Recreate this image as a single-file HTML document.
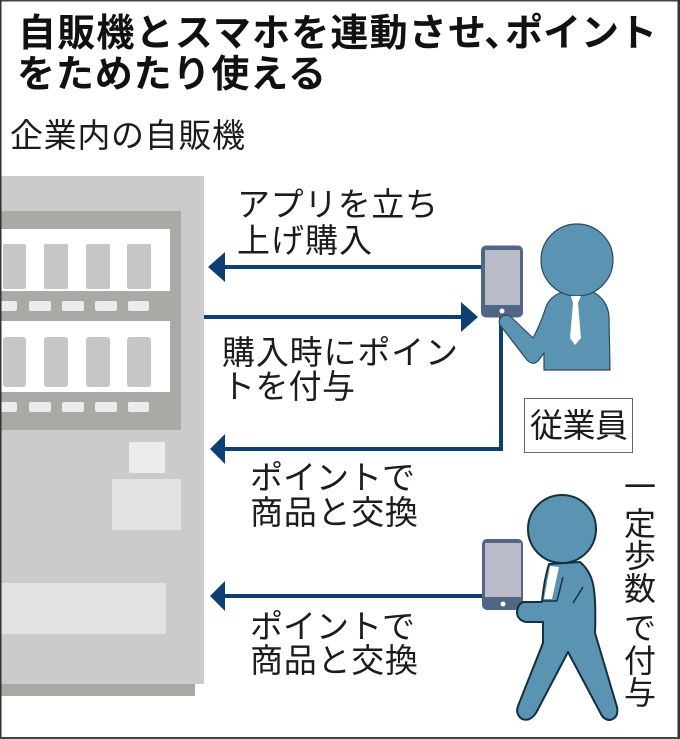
<!DOCTYPE html>
<html><head><meta charset="utf-8"><style>
html,body{margin:0;padding:0;background:#fff}
svg{display:block}
text{font-family:"Liberation Sans","Noto Sans CJK JP",sans-serif;fill:#1c1c1c}
.t{font-size:38px;font-weight:700;fill:#111}
.l{font-size:33px}
.v{font-size:32px;text-anchor:middle}
</style></head><body>
<svg width="680" height="739" viewBox="0 0 680 739" xmlns="http://www.w3.org/2000/svg">
<rect width="680" height="739" fill="#fff"/>
<!-- machine -->
<rect x="0" y="176" width="204" height="508" fill="#cbcbcb"/>
<rect x="0" y="684" width="195" height="12" fill="#a9a9a4"/>
<rect x="0" y="211" width="181" height="219" fill="#a9a9a5"/>
<rect x="0" y="229" width="170" height="62" fill="#fff"/>
<rect x="0" y="321" width="170" height="71" fill="#fff"/>
<g fill="#c6c6c6">
<rect x="3" y="244" width="23" height="45" rx="2"/><rect x="44" y="244" width="24" height="45" rx="2"/><rect x="86" y="244" width="24" height="45" rx="2"/><rect x="127" y="244" width="24" height="45" rx="2"/>
<rect x="3" y="337" width="23" height="50" rx="3"/><rect x="44" y="337" width="24" height="50" rx="3"/><rect x="86" y="337" width="24" height="50" rx="3"/><rect x="127" y="337" width="24" height="50" rx="3"/>
</g>
<g fill="#ececec">
<rect x="0" y="301" width="17" height="10" rx="2"/><rect x="29" y="301" width="22" height="10" rx="2"/><rect x="62" y="301" width="22" height="10" rx="2"/><rect x="95" y="301" width="22" height="10" rx="2"/><rect x="128" y="301" width="21" height="10" rx="2"/>
<rect x="0" y="402" width="17" height="10" rx="2"/><rect x="29" y="402" width="22" height="10" rx="2"/><rect x="62" y="402" width="22" height="10" rx="2"/><rect x="95" y="402" width="22" height="10" rx="2"/><rect x="128" y="402" width="21" height="10" rx="2"/>
<rect x="129" y="442" width="36" height="31"/>
</g>
<g fill="#e2e2e2">
<rect x="112" y="479" width="69" height="51"/>
<rect x="0" y="583" width="166" height="51"/>
</g>
<!-- frame -->
<rect x="0" y="0" width="680" height="1.500" fill="#444"/>
<rect x="0" y="0" width="1.500" height="739" fill="#333"/>
<rect x="677.500" y="0" width="2.500" height="739" fill="#333"/>
<rect x="0" y="737" width="680" height="2" fill="#444"/>
<!-- arrows -->
<g fill="#0d3f73">
<rect x="224" y="265" width="260" height="4"/>
<path d="M208 267L225 252V282Z"/>
<rect x="204" y="315" width="260" height="4"/>
<path d="M478 317L461 302V332Z"/>
<rect x="499" y="316" width="4" height="135"/>
<rect x="225" y="447" width="278" height="4"/>
<path d="M210 449L225 434V464Z"/>
<rect x="225" y="594" width="260" height="4"/>
<path d="M210 596L225 581V611Z"/>
</g>
<!-- person 1 -->
<rect x="481" y="245.500" width="42" height="72" rx="5" fill="#4f6685"/>
<rect x="485" y="250" width="35" height="55" fill="#b9bcc8"/>
<circle cx="502" cy="311" r="2.500" fill="#fff"/>
<g fill="#5b93b3" stroke="#2b4a5e" stroke-width="1.200" stroke-linejoin="round">
<path d="M560 293Q548 298 545 310Q540 325 533 338L510 316Q505 314 501 317Q498 321 500 325L527 360Q533 366 538 361L544 353V370H610L609 317Q608 300 593 292Z"/>
<circle cx="577" cy="260" r="36"/>
</g>
<path d="M571 296H581L578 303L581 338L575 345L570 338L573 303Z" fill="#fff"/>
<!-- person 2 -->
<rect x="482" y="539" width="41" height="71" rx="5" fill="#4f6685"/>
<rect x="485" y="543" width="36" height="54" fill="#b9bcc8"/>
<circle cx="503" cy="604" r="2.500" fill="#fff"/>
<path d="M549 564L580 562Q592 572 594 590Q596 605 595 633L617 707Q619 718 610 720Q604 720 601 714L568 652L536 713Q530 722 522 719Q515 714 518 706L543 643V622H526Q517 620 517 612Q518 603 524 602H542Q544 580 549 564Z" fill="#5b93b3" stroke="#14303f" stroke-width="2" stroke-linejoin="round"/>
<circle cx="562" cy="529" r="34" fill="#5b93b3" stroke="#14303f" stroke-width="2"/>
<path d="M550 566L559 567L552 599H544Z" fill="#fff"/>
<path d="M557 601L563 577M573 603L583 587M542 601H557" fill="none" stroke="#14303f" stroke-width="1.500"/>
<!-- label box -->
<rect x="524.500" y="398.500" width="108" height="54" fill="#fff" stroke="#666" stroke-width="1"/>
<!-- text -->
<text class="t" x="18" y="46" textLength="468">自販機とスマホを連動させ</text>
<text class="t" x="484" y="46">、</text>
<text class="t" x="505" y="46" textLength="152">ポイント</text>
<text class="t" x="17" y="87" textLength="309">をためたり使える</text>
<text class="l" x="10" y="147" textLength="235">企業内の自販機</text>
<text class="l" x="237" y="216" textLength="201">アプリを立ち</text>
<text class="l" x="237" y="252" textLength="135">上げ購入</text>
<text class="l" x="222" y="364" textLength="236">購入時にポイン</text>
<text class="l" x="222" y="398" textLength="133">トを付与</text>
<text class="l" x="250" y="489" textLength="165">ポイントで</text>
<text class="l" x="250" y="524" textLength="168">商品と交換</text>
<text class="l" x="250" y="638" textLength="165">ポイントで</text>
<text class="l" x="250" y="672" textLength="168">商品と交換</text>
<text class="l" x="530" y="437" textLength="98">従業員</text>
<text class="v" x="640" y="498">一</text>
<text class="v" x="640" y="535">定</text>
<text class="v" x="640" y="567">歩</text>
<text class="v" x="640" y="600">数</text>
<text class="v" x="640" y="639">で</text>
<text class="v" x="640" y="672">付</text>
<text class="v" x="640" y="704">与</text>
</svg>
</body></html>
